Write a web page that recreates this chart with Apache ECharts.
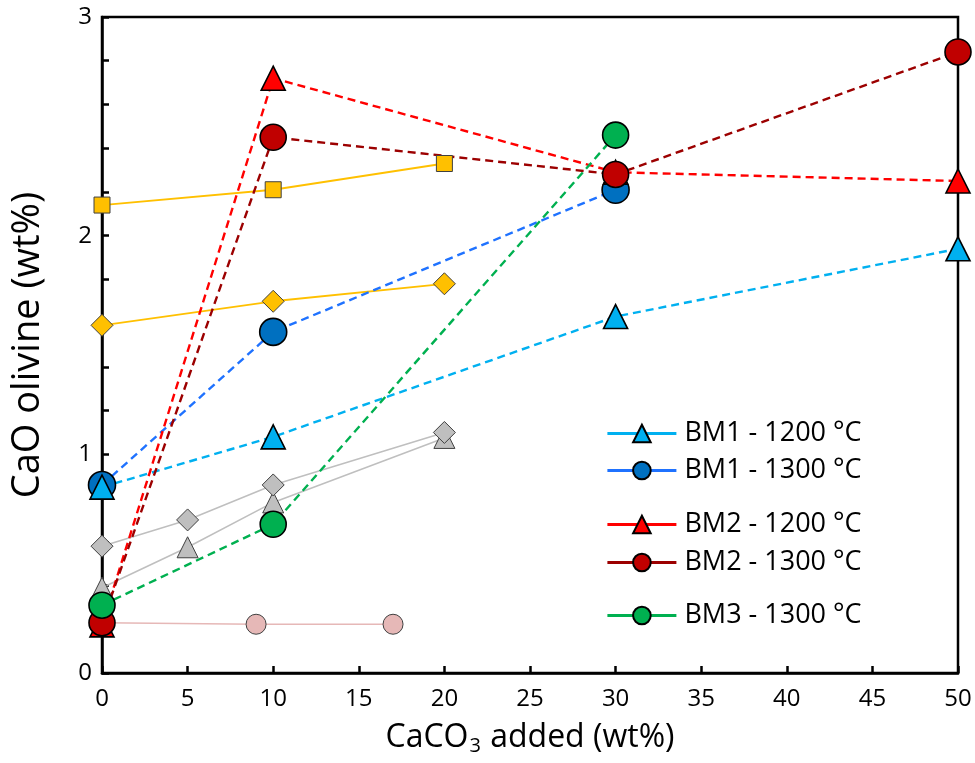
<!DOCTYPE html>
<html>
<head>
<meta charset="utf-8">
<script src="https://cdn.jsdelivr.net/npm/echarts@6/dist/echarts.min.js"></script>
<style>
  html, body { margin: 0; padding: 0; background: #ffffff; }
  #chart { width: 975px; height: 763px; }
</style>
</head>
<body>
<div id="chart"></div>
<script>
// CaO content of olivine versus CaCO3 added, per starting material and temperature
const xTicks = [0, 5, 10, 15, 20, 25, 30, 35, 40, 45, 50];
const yTicks = [0, 1, 2, 3];

const bm1_1200_x = [0, 10, 30, 50];
const bm1_1200_y = [0.85, 1.08, 1.63, 1.94];

const bm1_1300_x = [0, 10, 30];
const bm1_1300_y = [0.86, 1.56, 2.21];

const bm2_1200_x = [0, 10, 30, 50];
const bm2_1200_y = [0.22, 2.72, 2.29, 2.25];

const bm2_1300_x = [0, 10, 30, 50];
const bm2_1300_y = [0.23, 2.45, 2.28, 2.84];

const bm3_1300_x = [0, 10, 30];
const bm3_1300_y = [0.31, 0.68, 2.46];

// reference data sets (unlabelled)
const ref_square_x = [0, 10, 20];
const ref_square_y = [2.14, 2.21, 2.33];

const ref_diamond_x = [0, 10, 20];
const ref_diamond_y = [1.59, 1.70, 1.78];

const grey_diamond_x = [0, 5, 10, 20];
const grey_diamond_y = [0.58, 0.70, 0.86, 1.10];

const grey_triangle_x = [0, 5, 10, 20];
const grey_triangle_y = [0.39, 0.575, 0.78, 1.075];

const pink_circle_x = [0, 9, 17];
const pink_circle_y = [0.23, 0.223, 0.223];

const FONT = '"Open Sans", sans-serif';

function pairs(xs, ys) {
  return xs.map((x, i) => [x, ys[i]]);
}

const lines = [];
const markers = [];

function addSet(name, xs, ys, s) {
  const data = pairs(xs, ys);
  const itemStyle = {
    color: s.fill,
    borderColor: s.border,
    borderWidth: s.borderWidth,
    opacity: 1
  };
  lines.push({
    name: name,
    type: 'line',
    data: data,
    z: 2,
    symbol: s.symbol,
    symbolSize: s.size,
    showSymbol: false,
    silent: true,
    itemStyle: itemStyle,
    lineStyle: {
      color: s.line,
      width: s.lineWidth,
      type: s.dashed ? [8, 5] : 'solid'
    }
  });
  markers.push({
    name: name,
    type: 'scatter',
    data: data,
    z: 3,
    symbol: s.symbol,
    symbolSize: s.size,
    silent: true,
    itemStyle: itemStyle
  });
}

// drawing order: later sets sit on top
addSet('pink', pink_circle_x, pink_circle_y,
  { fill: '#E6B8B7', border: '#404040', borderWidth: 1, symbol: 'circle', size: 20, line: '#E6B8B7', lineWidth: 1.5, dashed: false });
addSet('greyTri', grey_triangle_x, grey_triangle_y,
  { fill: '#BFBFBF', border: '#404040', borderWidth: 1, symbol: 'triangle', size: 21, line: '#BFBFBF', lineWidth: 1.5, dashed: false });
addSet('greyDia', grey_diamond_x, grey_diamond_y,
  { fill: '#BFBFBF', border: '#404040', borderWidth: 1, symbol: 'diamond', size: 22, line: '#BFBFBF', lineWidth: 1.5, dashed: false });
addSet('orangeDia', ref_diamond_x, ref_diamond_y,
  { fill: '#FFC000', border: '#404040', borderWidth: 1, symbol: 'diamond', size: 22, line: '#FFC000', lineWidth: 1.8, dashed: false });
addSet('orangeSq', ref_square_x, ref_square_y,
  { fill: '#FFC000', border: '#404040', borderWidth: 1, symbol: 'rect', size: 16, line: '#FFC000', lineWidth: 1.8, dashed: false });
addSet('BM1 - 1300 °C', bm1_1300_x, bm1_1300_y,
  { fill: '#0070C0', border: '#000000', borderWidth: 1.6, symbol: 'circle', size: 27, line: '#1F72FF', lineWidth: 2.4, dashed: true });
addSet('BM1 - 1200 °C', bm1_1200_x, bm1_1200_y,
  { fill: '#00B0F0', border: '#000000', borderWidth: 1.6, symbol: 'triangle', size: 24, line: '#00B0F0', lineWidth: 2.4, dashed: true });
addSet('BM2 - 1200 °C', bm2_1200_x, bm2_1200_y,
  { fill: '#FF0000', border: '#000000', borderWidth: 1.6, symbol: 'triangle', size: 24, line: '#FF0000', lineWidth: 2.4, dashed: true });
addSet('BM2 - 1300 °C', bm2_1300_x, bm2_1300_y,
  { fill: '#C00000', border: '#000000', borderWidth: 1.6, symbol: 'circle', size: 26, line: '#9C0000', lineWidth: 2.4, dashed: true });
addSet('BM3 - 1300 °C', bm3_1300_x, bm3_1300_y,
  { fill: '#00B050', border: '#000000', borderWidth: 1.6, symbol: 'circle', size: 26, line: '#00B050', lineWidth: 2.4, dashed: true });

function legendGroup(names, top, gap) {
  return {
    data: names,
    orient: 'vertical',
    left: 601,
    top: top,
    itemWidth: 69,
    itemHeight: 22,
    itemGap: gap,
    selectedMode: false,
    lineStyle: { type: 'solid', width: 2.8 },
    textStyle: {
      fontFamily: FONT,
      fontSize: 27,
      color: '#000000',
      lineHeight: 22,
      padding: [0, 0, 0, 3]
    }
  };
}

const chart = echarts.init(document.getElementById('chart'), null, { renderer: 'canvas' });

chart.setOption({
  animation: false,
  backgroundColor: '#ffffff',
  grid: {
    left: 102, right: 17, top: 17, bottom: 90,
    show: true,
    borderColor: '#000000',
    borderWidth: 2.5,
    backgroundColor: 'transparent'
  },
  legend: [
    legendGroup(['BM1 - 1200 °C', 'BM1 - 1300 °C'], 415, 10),
    legendGroup(['BM2 - 1200 °C', 'BM2 - 1300 °C'], 506, 11),
    legendGroup(['BM3 - 1300 °C'], 597, 10)
  ],
  xAxis: {
    type: 'value',
    min: xTicks[0],
    max: xTicks[xTicks.length - 1],
    interval: xTicks[1] - xTicks[0],
    name: '{t|CaCO}{s|3}{t| added (wt%)}',
    nameLocation: 'middle',
    nameGap: 47,
    nameTextStyle: {
      rich: {
        t: { fontFamily: FONT, fontSize: 32, color: '#000000' },
        s: { fontFamily: FONT, fontSize: 20, color: '#000000', verticalAlign: 'bottom', padding: [16, 1, 0, 1] }
      }
    },
    axisLine: { lineStyle: { color: '#000000', width: 2.5 } },
    axisTick: { inside: true, length: 7, lineStyle: { color: '#000000', width: 2.5 } },
    axisLabel: { fontFamily: FONT, fontSize: 24, color: '#000000', margin: 14 },
    splitLine: { show: false }
  },
  yAxis: {
    type: 'value',
    min: yTicks[0],
    max: yTicks[yTicks.length - 1],
    interval: yTicks[1] - yTicks[0],
    name: 'CaO olivine (wt%)',
    nameLocation: 'middle',
    nameGap: 55,
    nameRotate: 90,
    nameTextStyle: { fontFamily: FONT, fontSize: 38, color: '#000000' },
    axisLine: { lineStyle: { color: '#000000', width: 2.5 } },
    axisTick: { inside: true, length: 7, lineStyle: { color: '#000000', width: 2.5 } },
    minorTick: { show: true, splitNumber: 5, length: 7, lineStyle: { color: '#000000', width: 2.5 } },
    axisLabel: { fontFamily: FONT, fontSize: 24, color: '#000000', margin: 10 },
    splitLine: { show: false },
    minorSplitLine: { show: false }
  },
  series: lines.concat(markers)
});
</script>
</body>
</html>
